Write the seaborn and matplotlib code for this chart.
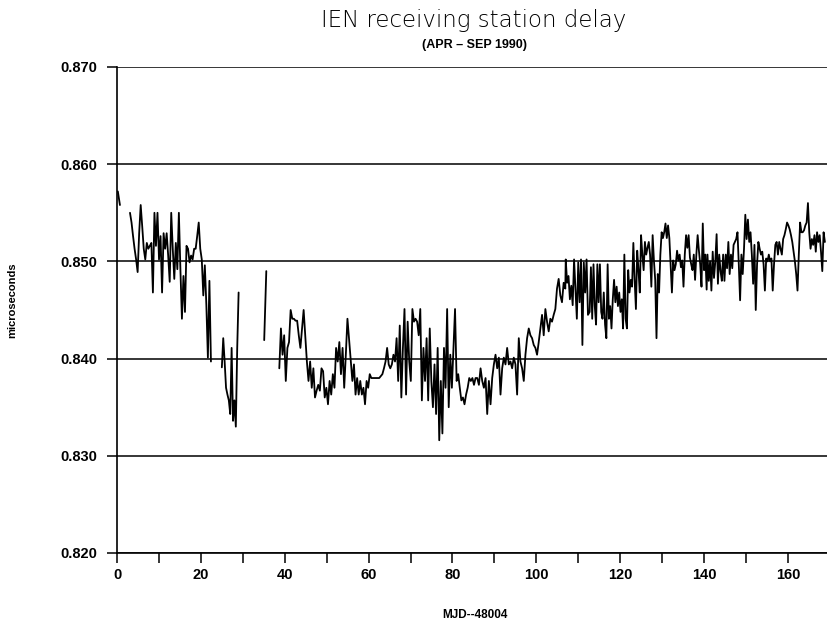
import numpy as np
import pandas as pd
import matplotlib
matplotlib.use("Agg")
import matplotlib.pyplot as plt
import seaborn as sns
from matplotlib.ticker import MultipleLocator

# ---------------- data (MJD-48004 days, delay in microseconds) ----------------
seg_a_days = [0.2, 0.7]
seg_a_vals = [0.8572, 0.8558]

seg_b_span = (3.1, 22.4)
seg_b_vals = [
    0.8550, 0.8540, 0.8526, 0.8513, 0.8502, 0.8489, 0.8529, 0.8558, 0.8536, 0.8513,
    0.8502, 0.8519, 0.8513, 0.8516, 0.8519, 0.8468, 0.8550, 0.8516, 0.8550, 0.8502,
    0.8526, 0.8468, 0.8529, 0.8513, 0.8529, 0.8506, 0.8479, 0.8550, 0.8513, 0.8482,
    0.8519, 0.8492, 0.8550, 0.8492, 0.8441, 0.8485, 0.8448, 0.8516, 0.8513, 0.8499,
    0.8506, 0.8502, 0.8513, 0.8513, 0.8526, 0.8540, 0.8513, 0.8502, 0.8465, 0.8496,
    0.8455, 0.8401, 0.8480, 0.8397]

seg_c_span = (25.0, 29.0)
seg_c_vals = [0.8391, 0.8421, 0.8397, 0.8370, 0.8363, 0.8357, 0.8343, 0.8411,
              0.8336, 0.8357, 0.8330, 0.8411, 0.8468]

seg_d_days = [35.1, 35.6]
seg_d_vals = [0.8419, 0.8490]

e1_span = (38.7, 54.95)
e1_vals = [
    0.8390, 0.8431, 0.8404, 0.8424, 0.8377, 0.8411, 0.8417, 0.8450, 0.8441, 0.8441,
    0.8439, 0.8439, 0.8424, 0.8411, 0.8431, 0.8450, 0.8424, 0.8397, 0.8377, 0.8397,
    0.8370, 0.8390, 0.8360, 0.8367, 0.8373, 0.8367, 0.8390, 0.8387, 0.8360, 0.8370,
    0.8353, 0.8377, 0.8363, 0.8384, 0.8370, 0.8411, 0.8397, 0.8417, 0.8384, 0.8411,
    0.8370, 0.8404, 0.8441]

e2_span = (55.75, 85.5)
e2_vals = [
    0.8397, 0.8377, 0.8394, 0.8363, 0.8380, 0.8363, 0.8377, 0.8363, 0.8370, 0.8353,
    0.8377, 0.8370, 0.8384, 0.8380, 0.8380, 0.8380, 0.8380, 0.8380, 0.8380, 0.8382,
    0.8384, 0.8390, 0.8397, 0.8411, 0.8394, 0.8390, 0.8394, 0.8404, 0.8397, 0.8421,
    0.8377, 0.8434, 0.8360, 0.8411, 0.8451, 0.8363, 0.8438, 0.8397, 0.8377, 0.8451,
    0.8438, 0.8441, 0.8438, 0.8424, 0.8451, 0.8357, 0.8411, 0.8377, 0.8421, 0.8357,
    0.8431, 0.8377, 0.8350, 0.8394, 0.8343, 0.8411, 0.8316, 0.8377, 0.8323, 0.8411,
    0.8370, 0.8451, 0.8350, 0.8404, 0.8370, 0.8411, 0.8451, 0.8377, 0.8384, 0.8370,
    0.8357, 0.8360, 0.8353, 0.8363, 0.8370, 0.8380, 0.8377, 0.8380, 0.8373, 0.8380]

e3_span = (85.9, 106.9)
e3_vals = [
    0.8380, 0.8373, 0.8390, 0.8377, 0.8370, 0.8380, 0.8343, 0.8377, 0.8353, 0.8380,
    0.8394, 0.8404, 0.8390, 0.8401, 0.8363, 0.8390, 0.8401, 0.8394, 0.8411, 0.8394,
    0.8397, 0.8390, 0.8401, 0.8394, 0.8363, 0.8421, 0.8397, 0.8390, 0.8377, 0.8404,
    0.8421, 0.8431, 0.8424, 0.8421, 0.8414, 0.8411, 0.8404, 0.8417, 0.8431, 0.8445,
    0.8424, 0.8451, 0.8438, 0.8428, 0.8441, 0.8438, 0.8445, 0.8451, 0.8472, 0.8482,
    0.8465, 0.8458, 0.8478, 0.8472]

e4_span = (107.0, 112.3)
e4_vals = [
    0.8502, 0.8478, 0.8485, 0.8461, 0.8475, 0.8455, 0.8502, 0.8472, 0.8441, 0.8499,
    0.8458, 0.8502, 0.8414, 0.8499, 0.8468, 0.8502, 0.8445]

e5_span = (112.7, 140.6)
e5_vals = [
    0.8448, 0.8494, 0.8441, 0.8497, 0.8454, 0.8435, 0.8497, 0.8458, 0.8497, 0.8448,
    0.8441, 0.8468, 0.8435, 0.8421, 0.8497, 0.8441, 0.8454, 0.8431, 0.8461, 0.8481,
    0.8458, 0.8474, 0.8454, 0.8468, 0.8448, 0.8461, 0.8431, 0.8507, 0.8441, 0.8431,
    0.8491, 0.8468, 0.8481, 0.8474, 0.8519, 0.8481, 0.8451, 0.8511, 0.8491, 0.8468,
    0.8527, 0.8507, 0.8491, 0.8520, 0.8507, 0.8514, 0.8520, 0.8507, 0.8474, 0.8527,
    0.8501, 0.8481, 0.8421, 0.8487, 0.8468, 0.8507, 0.8530, 0.8524, 0.8530, 0.8539,
    0.8524, 0.8537, 0.8524, 0.8497, 0.8468, 0.8501, 0.8491, 0.8497, 0.8511, 0.8501,
    0.8507, 0.8494, 0.8501, 0.8474, 0.8507, 0.8527, 0.8514, 0.8527, 0.8504, 0.8497,
    0.8491, 0.8507, 0.8481, 0.8507, 0.8527, 0.8511, 0.8497, 0.8474, 0.8539, 0.8491,
    0.8507, 0.8471]

e6_span = (140.8, 168.8)
e6_vals = [
    0.8507, 0.8480, 0.8500, 0.8470, 0.8510, 0.8483, 0.8500, 0.8528, 0.8477, 0.8507,
    0.8490, 0.8480, 0.8507, 0.8480, 0.8507, 0.8493, 0.8520, 0.8487, 0.8507, 0.8493,
    0.8517, 0.8520, 0.8523, 0.8530, 0.8497, 0.8460, 0.8507, 0.8487, 0.8513, 0.8548,
    0.8523, 0.8543, 0.8520, 0.8530, 0.8507, 0.8477, 0.8517, 0.8450, 0.8497, 0.8520,
    0.8513, 0.8507, 0.8510, 0.8497, 0.8470, 0.8503, 0.8500, 0.8507, 0.8500, 0.8503,
    0.8470, 0.8497, 0.8517, 0.8520, 0.8507, 0.8520, 0.8513, 0.8507, 0.8523, 0.8527,
    0.8533, 0.8540, 0.8537, 0.8533, 0.8527, 0.8520, 0.8510, 0.8500, 0.8487, 0.8470,
    0.8507, 0.8540, 0.8530, 0.8530, 0.8532, 0.8537, 0.8540, 0.8560, 0.8530, 0.8513,
    0.8523, 0.8517, 0.8527, 0.8510, 0.8530, 0.8520, 0.8527, 0.8510, 0.8490, 0.8530,
    0.8520]

y_ticks = [0.820, 0.830, 0.840, 0.850, 0.860, 0.870]
x_major = [0, 20, 40, 60, 80, 100, 120, 140, 160]

title = "IEN receiving station delay"
subtitle = "(APR – SEP 1990)"
x_label = "MJD--48004"
y_label = "microseconds"

# ---------------- assemble ----------------
def spaced(span, vals):
    return list(np.linspace(span[0], span[1], len(vals)))

rows = []
def add(seg, days, vals):
    for d, v in zip(days, vals):
        rows.append((seg, d, v))

add("A", seg_a_days, seg_a_vals)
add("B", spaced(seg_b_span, seg_b_vals), seg_b_vals)
add("C", spaced(seg_c_span, seg_c_vals), seg_c_vals)
add("D", seg_d_days, seg_d_vals)
for span, vals in [(e1_span, e1_vals), (e2_span, e2_vals), (e3_span, e3_vals),
                   (e4_span, e4_vals), (e5_span, e5_vals), (e6_span, e6_vals)]:
    add("E", spaced(span, vals), vals)

df = pd.DataFrame(rows, columns=["segment", "day", "delay"])

# ---------------- plot ----------------
sns.set_style("ticks")
plt.rcParams["font.family"] = ["Liberation Sans", "DejaVu Sans"]
plt.rcParams["text.color"] = "black"
plt.rcParams["xtick.color"] = "black"
plt.rcParams["ytick.color"] = "black"

fig = plt.figure(figsize=(8.27, 6.29), dpi=100)
ax = fig.add_axes([117 / 827, (629 - 553) / 629, 1 - 117 / 827, (553 - 67) / 629])

sns.lineplot(data=df, x="day", y="delay", units="segment", estimator=None,
             sort=False, color="black", linewidth=1.3, ax=ax, legend=False)

ax.set_xlim(0, 169.3)
ax.set_ylim(0.820, 0.870)
ax.set_yticks(y_ticks)
ax.set_yticklabels([f"{t:.3f}" for t in y_ticks], fontsize=10.5, fontweight="bold")
ax.set_xticks(x_major)
ax.set_xticklabels([str(t) for t in x_major], fontsize=10.5, fontweight="bold")
ax.xaxis.set_minor_locator(MultipleLocator(10))
ax.tick_params(axis="both", which="both", direction="out", length=7, width=1.1,
               color="black", labelcolor="black")
ax.tick_params(axis="y", which="both", pad=7)
ax.tick_params(axis="x", which="both", pad=4)

ax.yaxis.grid(True, color="black", linewidth=1.1)
ax.xaxis.grid(False)
ax.set_axisbelow(False)
for s in ["top", "right"]:
    ax.spines[s].set_visible(False)
for s in ["left", "bottom"]:
    ax.spines[s].set_color("black")
    ax.spines[s].set_linewidth(1.2)

ax.set_xlabel("")
ax.set_ylabel("")

fig.text(474 / 827, 1 - 20 / 629, title, ha="center", va="center",
         fontsize=16.5, family=["DejaVu Sans"], fontweight="light", color="black")
fig.text(474 / 827, 1 - 45 / 629, subtitle, ha="center", va="center",
         fontsize=9, fontweight="bold", color="black")
fig.text(475 / 827, 1 - 615 / 629, x_label, ha="center", va="center",
         fontsize=8.5, fontweight="bold", color="black")
fig.text(12 / 827, 1 - 300 / 629, y_label, ha="center", va="center",
         rotation=90, fontsize=8, fontweight="bold", color="black")

fig.savefig("out.png", dpi=100, facecolor="white")
